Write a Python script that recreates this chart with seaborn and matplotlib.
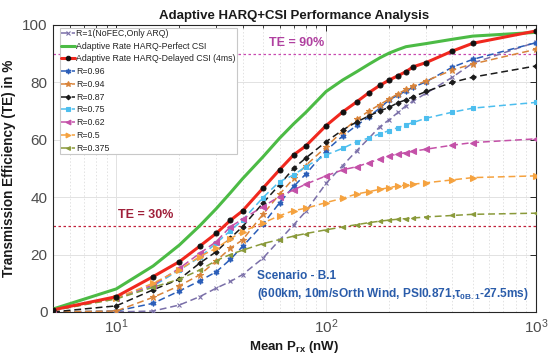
import matplotlib
matplotlib.use("Agg")
import matplotlib.pyplot as plt
from matplotlib.ticker import LogLocator, NullFormatter
import seaborn as sns
import pandas as pd

# Mean received power sweep (nW)
x_nw = [5, 10, 15, 20, 25, 30, 35, 40, 50, 60, 70, 80, 100, 120, 140,
        160, 180, 200, 220, 240, 260, 300, 400, 500, 1000]

# Transmission efficiency (%) per scheme
te_perfect = [1, 8, 16, 23.3, 30, 36, 41.5, 46.4, 54, 60.5, 65.5, 69.5, 76.8,
              80.8, 83.7, 86.3, 88.5, 90.2, 91.4, 92.4, 92.8, 93.5, 95.0, 96.1, 97.4]
te_delayed = [0.7, 5.3, 12.3, 17.5, 22.9, 27.4, 31.9, 35.2, 43.1, 49.5, 54.7, 57.8,
              64.9, 69.7, 73.2, 76.4, 78.9, 80.8, 82.3, 83.7, 85.4, 86.9, 90.9, 93.6, 97.9]
te_r100 = [0, 0, 0.3, 2.4, 5.3, 8.3, 10.6, 13, 18.7, 25, 30.3, 35, 44.8, 51, 56.2,
           60.5, 64.5, 67, 69.5, 71.8, 73.5, 76.2, 81.8, 86.7, 94]
te_r096 = [0, 0.3, 3, 7.3, 10.8, 14, 18.3, 22.8, 30.5, 38, 43.7, 48, 56.2, 61.3, 65,
           68, 71, 73.9, 75.5, 77, 78.3, 80.2, 85.3, 88, 93.8]
te_r094 = [0, 0.3, 5.1, 9.1, 12.9, 17.8, 22.2, 25.1, 34, 41, 46.5, 51, 57.5, 63, 67.1,
           70, 72.2, 74.2, 76, 77.5, 78.7, 80.5, 84.3, 86.4, 91.5]
te_r087 = [0, 2.1, 7.7, 11.4, 17, 21, 25.7, 29.7, 37.9, 44.3, 50, 53.6, 59.3, 63.4,
           66.2, 68.3, 70, 71.3, 72.9, 73.9, 75, 76.8, 80, 81.8, 85.7]
te_r075 = [0.5, 4.8, 9, 14.6, 19, 24, 28.3, 32, 39.8, 45.4, 47.7, 50.6, 54.7, 57,
           59.3, 60.6, 62, 63.2, 64.2, 65.2, 66, 67.5, 69.6, 71, 73]
te_r062 = [0.5, 4.8, 9.4, 15.2, 20.4, 24.5, 29.7, 32.3, 36.7, 40.2, 42.5, 44.5, 47.4,
           49.5, 50.6, 52, 53.2, 54.4, 55, 55.5, 56, 56.7, 58.1, 59, 60.3]
te_r050 = [0.5, 4.8, 10, 14.6, 19.3, 22.2, 25.5, 28, 31, 33.5, 35.3, 36.1, 38.1, 39.6,
           41.1, 41.9, 42.7, 43.3, 43.9, 44.2, 44.5, 45, 46, 46.8, 47.4]
te_r0375 = [0.5, 4.5, 8.6, 11.4, 14.6, 17.9, 20, 21.5, 23.8, 25.2, 26.4, 27.3, 28.6,
            29.6, 30.4, 31.1, 31.6, 32, 32.3, 32.5, 32.7, 33.1, 33.6, 34, 34.4]

te_targets = [90, 30]
y_ticks = [0, 20, 40, 60, 80, 100]

sns.set_theme(style="white")
plt.rcParams["font.family"] = ["Liberation Sans", "DejaVu Sans"]
plt.rcParams["mathtext.fontset"] = "custom"
plt.rcParams["mathtext.rm"] = "Liberation Sans"
plt.rcParams["mathtext.bf"] = "Liberation Sans:bold"
plt.rcParams["mathtext.it"] = "Liberation Sans:italic"

fig = plt.figure(figsize=(5.52, 3.61), dpi=100)
ax = fig.add_axes([0.096, 0.136, 0.875, 0.795])

df = pd.DataFrame({"x": x_nw})

dash = (4.5, 2.5)
coded = [
    ("R=1(NoFEC,Only ARQ)", te_r100, "#7A6FA8", "x", 3.2),
    ("R=0.96", te_r096, "#2A5DB8", (6, 1, 0), 4.2),
    ("R=0.94", te_r094, "#D9843A", "*", 4.6),
    ("R=0.87", te_r087, "#1A1A1A", "D", 2.6),
    ("R=0.75", te_r075, "#4DBEEE", "s", 3.0),
    ("R=0.62", te_r062, "#C451A8", "<", 3.8),
    ("R=0.5", te_r050, "#F5A23F", ">", 3.8),
    ("R=0.375", te_r0375, "#8A9A3A", "<", 3.0),
]

handles = {}
for label, vals, col, mk, ms in coded:
    sns.lineplot(x=df["x"], y=vals, ax=ax, color=col, marker=mk, markersize=ms,
                 markeredgewidth=0.8, markeredgecolor=col, markerfacecolor=col,
                 linewidth=1.1, dashes=False, linestyle="--", label=label,
                 sort=False, errorbar=None, zorder=3)
    handles[label] = ax.lines[-1]
    ax.lines[-1].set_dashes(dash)

sns.lineplot(x=df["x"], y=te_perfect, ax=ax, color="#4CBB45", linewidth=2.2,
             label="Adaptive Rate HARQ-Perfect CSI", sort=False, errorbar=None, zorder=4)
handles["perfect"] = ax.lines[-1]
sns.lineplot(x=df["x"], y=te_delayed, ax=ax, color="#F0281E", linewidth=2.2,
             marker="o", markersize=3.6, markerfacecolor="#111111",
             markeredgecolor="#111111", label="Adaptive Rate HARQ-Delayed CSI (4ms)",
             sort=False, errorbar=None, zorder=5)
handles["delayed"] = ax.lines[-1]

# Target efficiency reference lines
ax.axhline(te_targets[0], color="#C848B0", linestyle=(0, (2, 2)), linewidth=0.9, zorder=2)
ax.axhline(te_targets[1], color="#C0203A", linestyle=(0, (2, 2)), linewidth=0.9, zorder=2)
ax.text(53.5, 93.6, "TE = 90%", color="#B040A0", fontsize=9, fontweight="bold",
        va="center", ha="left")
ax.text(10.2, 33.6, "TE = 30%", color="#A0203A", fontsize=9, fontweight="bold",
        va="center", ha="left")
ax.text(46.9, 12.5, "Scenario - B.1", color="#2A5CAA", fontsize=8.6,
        fontweight="bold", va="center", ha="left")
ax.text(46.9, 6.3, r"(600km, 10m/sOrth Wind, PSI0.871,$\mathbf{\tau_{0B.1}}$-27.5ms)",
        color="#2A5CAA", fontsize=8.6, fontweight="bold", va="center", ha="left")

ax.set_xscale("log")
ax.set_xlim(5, 1000)
ax.set_ylim(0, 100)
ax.set_yticks(y_ticks)
ax.xaxis.set_minor_locator(LogLocator(base=10, subs=range(2, 10)))
ax.xaxis.set_minor_formatter(NullFormatter())

ax.grid(True, which="major", color="#E2E2E2", linewidth=0.7, linestyle="-")
ax.grid(True, which="minor", axis="x", color="#E2E2E2", linewidth=0.7, linestyle=(0, (1.5, 2)))
ax.set_axisbelow(True)

ax.tick_params(which="both", direction="in", top=True, right=True,
               colors="#262626", labelcolor="#4D4D4D", labelsize=11)
ax.tick_params(which="major", length=4, width=0.7, pad=4)
ax.tick_params(which="minor", length=2.2, width=0.6)
for s in ax.spines.values():
    s.set_color("#262626")
    s.set_linewidth(0.8)

ax.set_title("Adaptive HARQ+CSI Performance Analysis", fontsize=9.5,
             fontweight="bold", color="#1A1A1A", pad=4)
ax.set_xlabel(r"Mean $\mathbf{P_{rx}}$ (nW)", fontsize=9.5, fontweight="bold",
              color="#1A1A1A", labelpad=2)
ax.set_ylabel("Transmission Efficiency (TE) in %", fontsize=9.8, fontweight="bold",
              color="#1A1A1A", labelpad=4)

order = ["R=1(NoFEC,Only ARQ)", "perfect", "delayed", "R=0.96", "R=0.94", "R=0.87",
         "R=0.75", "R=0.62", "R=0.5", "R=0.375"]
hs = [handles[k] for k in order]


def make_legend(fs, spacing):
    lg = ax.legend(hs, [h.get_label() for h in hs], loc="upper left",
                   bbox_to_anchor=(0.015, 0.99), fontsize=fs, frameon=True,
                   fancybox=False, framealpha=1, edgecolor="#C8C8C8",
                   handlelength=1.6, handletextpad=0.1, labelspacing=spacing,
                   borderpad=0.12, borderaxespad=0.0, markerscale=0.9)
    lg.get_frame().set_linewidth(0.8)
    lg.set_zorder(10)
    return lg


# Size the legend box to about 177 x 126 px
fs, spacing = 7.0, 0.3
renderer = fig.canvas.get_renderer()
for _ in range(3):
    leg = make_legend(fs, spacing)
    bb = leg.get_window_extent(renderer)
    fs *= 177.0 / bb.width
    leg = make_legend(fs, spacing)
    bb = leg.get_window_extent(renderer)
    spacing += (126.0 - bb.height) / (9 * fs * 100 / 72)
leg = make_legend(fs, spacing)

fig.savefig("out.png", dpi=100)
